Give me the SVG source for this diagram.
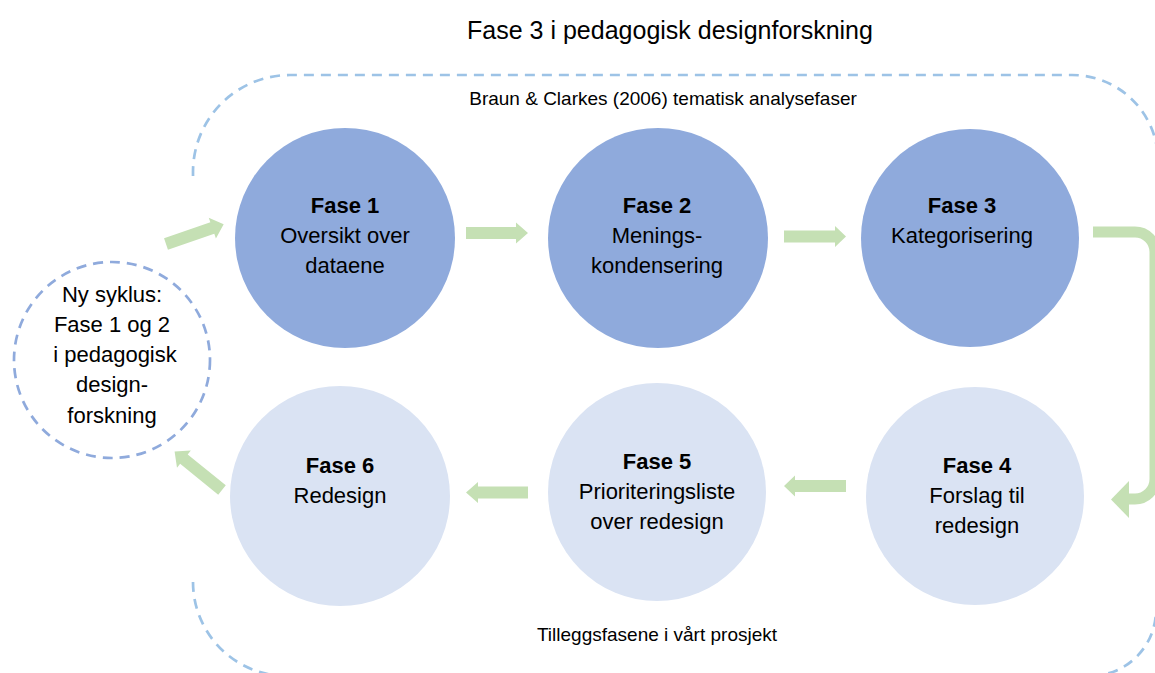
<svg xmlns="http://www.w3.org/2000/svg" width="1155" height="673" viewBox="0 0 1155 673">
<style>
text{font-family:"Liberation Sans",Arial,sans-serif;fill:#000;text-anchor:middle}
.t{font-size:22px}
.b{font-weight:bold}
.lbl{font-size:19px}
.title{font-size:25px}
.dk{fill:#8FAADC}
.lt{fill:#DAE3F3}
.arr{fill:#C5E0B4}
.box{fill:none;stroke:#9DC3E6;stroke-width:2.7;stroke-dasharray:10 7}
</style>
<defs>
<polygon id="darrow" points="0,-6 49,-6 49,-11 61,0 49,11 49,6 0,6"/>
</defs>
<rect width="1155" height="673" fill="#fff"/>
<text class="title" x="670" y="39">Fase 3 i pedagogisk designforskning</text>
<g id="frames">
<path class="box" d="M193,176 V172 A97,97 0 0 1 290,75 H1072 A86,86 0 0 1 1158,161"/>
<path class="box" d="M193,582 A94,94 0 0 0 287,676 H1090 A66,66 0 0 0 1156,610"/>
<text class="lbl" x="663" y="105">Braun &amp; Clarkes (2006) tematisk analysefaser</text>
<text class="lbl" x="657" y="641">Tilleggsfasene i vårt prosjekt</text>
</g>
<g id="nysyklus">
<circle cx="112" cy="360" r="98" fill="none" stroke="#8FAADC" stroke-width="2.7" stroke-dasharray="10 7"/>
<text class="t" x="112" y="302">Ny syklus:</text>
<text class="t" x="112" y="332">Fase 1 og 2</text>
<text class="t" x="115" y="362">i pedagogisk</text>
<text class="t" x="112" y="392">design-</text>
<text class="t" x="112" y="423">forskning</text>
</g>
<g id="fase1">
<circle class="dk" cx="345" cy="238" r="110"/>
<text class="t b" x="345" y="213">Fase 1</text>
<text class="t" x="345" y="243">Oversikt over</text>
<text class="t" x="345" y="273">dataene</text>
</g>
<g id="fase2">
<circle class="dk" cx="658" cy="238" r="110"/>
<text class="t b" x="657" y="213">Fase 2</text>
<text class="t" x="657" y="243">Menings-</text>
<text class="t" x="657" y="273">kondensering</text>
</g>
<g id="fase3">
<circle class="dk" cx="970" cy="238" r="109"/>
<text class="t b" x="962" y="213">Fase 3</text>
<text class="t" x="962" y="243">Kategorisering</text>
</g>
<g id="fase4">
<circle class="lt" cx="975" cy="496" r="109"/>
<text class="t b" x="977" y="473">Fase 4</text>
<text class="t" x="977" y="503">Forslag til</text>
<text class="t" x="977" y="533">redesign</text>
</g>
<g id="fase5">
<circle class="lt" cx="657" cy="492" r="109"/>
<text class="t b" x="657" y="469">Fase 5</text>
<text class="t" x="657" y="499">Prioriteringsliste</text>
<text class="t" x="657" y="529">over redesign</text>
</g>
<g id="fase6">
<circle class="lt" cx="340" cy="496" r="110"/>
<text class="t b" x="340" y="473">Fase 6</text>
<text class="t" x="340" y="503">Redesign</text>
</g>
<g id="connectors">
<use href="#darrow" class="arr" transform="translate(166,244) rotate(-19)"/>
<polygon class="arr" points="466,227 516,227 516,222.5 528,233 516,243.5 516,239 466,239"/>
<polygon class="arr" points="784,230.5 835,230.5 835,226 846,236.5 835,247 835,242.5 784,242.5"/>
<path d="M1093,232 H1135 A20,20 0 0 1 1155,252 V479 A20,20 0 0 1 1135,499 H1127" fill="none" stroke="#C5E0B4" stroke-width="11"/>
<polygon class="arr" points="1129,481 1111,499.5 1129,518"/>
<polygon class="arr" points="846,480 795,480 795,475.5 784,486 795,496.5 795,492 846,492"/>
<polygon class="arr" points="528,486.5 478,486.5 478,482 466,492.5 478,503 478,498.5 528,498.5"/>
<use href="#darrow" class="arr" transform="translate(222,490) rotate(-141)"/>
</g>
</svg>
